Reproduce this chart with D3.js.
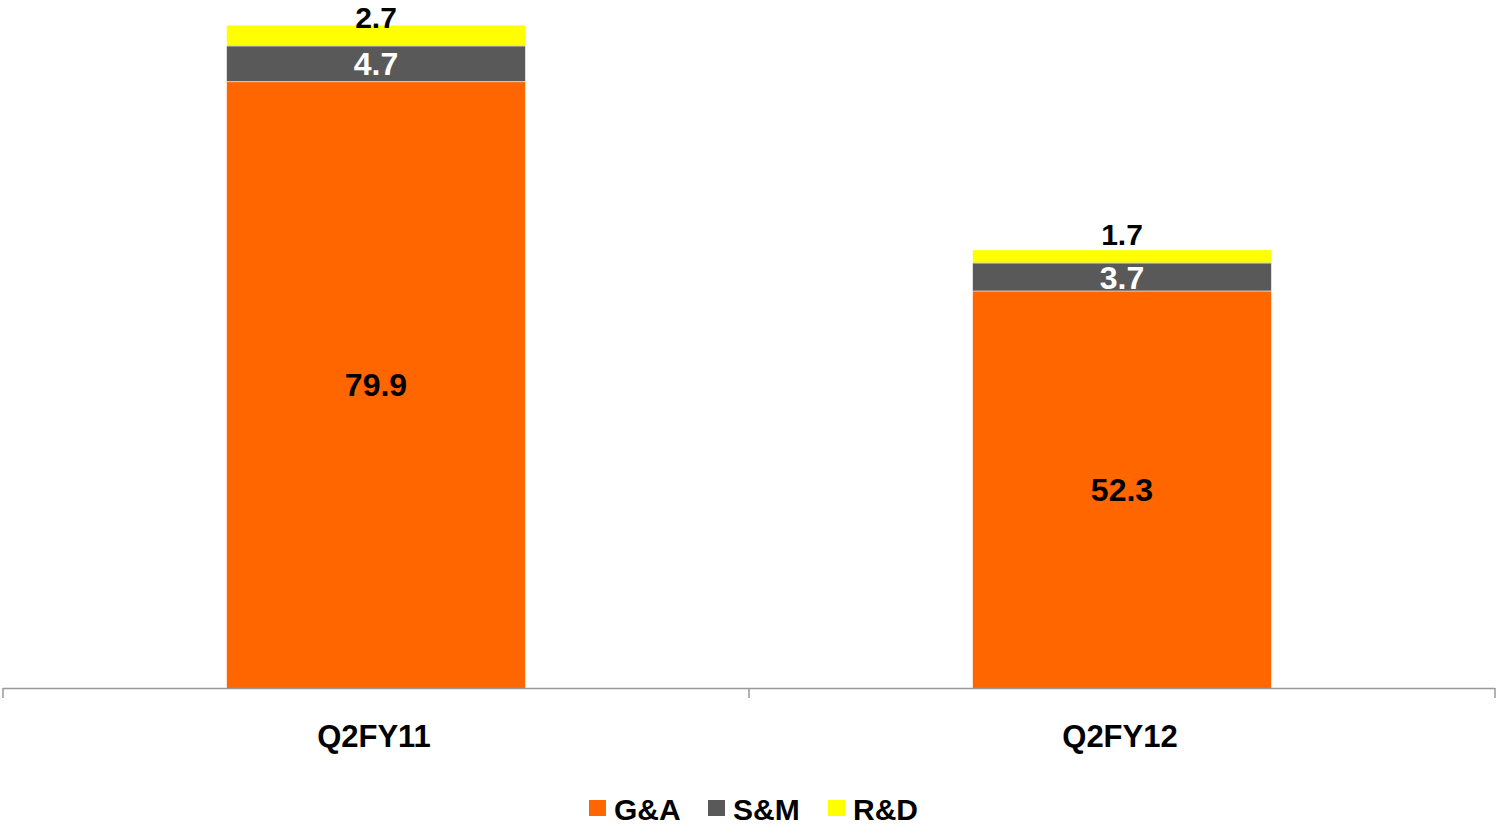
<!DOCTYPE html>
<html>
<head>
<meta charset="utf-8">
<script src="https://cdn.jsdelivr.net/npm/d3@7"></script>
<style>
  html, body { margin: 0; padding: 0; background: #ffffff; }
  svg { display: block; font-family: "Liberation Sans", Arial, sans-serif; }
</style>
</head>
<body>
<svg id="chart" width="1496" height="825"></svg>
<script>
// Quarterly operating expense breakdown
const categories = ["Q2FY11", "Q2FY12"];
const seriesNames = ["G&A", "S&M", "R&D"];
const gaValues = [79.9, 52.3];
const smValues = [4.7, 3.7];
const rdValues = [2.7, 1.7];
const seriesColors = ["#FF6600", "#595959", "#FFFF00"];

const rows = categories.map((c, i) => ({
  category: c,
  "G&A": gaValues[i],
  "S&M": smValues[i],
  "R&D": rdValues[i]
}));

const svg = d3.select("#chart");

const x = d3.scaleBand()
  .domain(categories)
  .range([3, 1495])
  .paddingInner(0.6)
  .paddingOuter(0.3);

const y = d3.scaleLinear()
  .domain([0, 90])
  .range([688, 5]);

const stacked = d3.stack().keys(seriesNames)(rows);

// stacked bar segments
const layers = svg.append("g").selectAll("g")
  .data(stacked)
  .join("g")
  .attr("fill", (d, i) => seriesColors[i]);

layers.selectAll("rect")
  .data(d => d)
  .join("rect")
  .attr("x", d => x(d.data.category))
  .attr("width", x.bandwidth())
  .attr("y", d => y(d[1]))
  .attr("height", d => y(d[0]) - y(d[1]));

// thin light separators between segments
stacked.slice(1).forEach(layer => {
  svg.append("g").selectAll("line")
    .data(layer)
    .join("line")
    .attr("x1", d => x(d.data.category))
    .attr("x2", d => x(d.data.category) + x.bandwidth())
    .attr("y1", d => y(d[0]))
    .attr("y2", d => y(d[0]))
    .attr("stroke", "#d0d0d0")
    .attr("stroke-width", 1);
});

// category axis
const step = x.step();
const axisG = svg.append("g");
axisG.append("line")
  .attr("x1", 3).attr("x2", 1495)
  .attr("y1", y(0) + 0.5).attr("y2", y(0) + 0.5)
  .attr("stroke", "#999999").attr("stroke-width", 1.5);
const boundaries = [x(categories[0]) - step * 0.3]
  .concat(categories.map(c => x(c) + x.bandwidth() + step * 0.3));
axisG.selectAll("line.tick")
  .data(boundaries)
  .join("line")
  .attr("class", "tick")
  .attr("x1", d => d).attr("x2", d => d)
  .attr("y1", y(0)).attr("y2", y(0) + 10)
  .attr("stroke", "#999999").attr("stroke-width", 1.5);

axisG.selectAll("text")
  .data(categories)
  .join("text")
  .attr("x", d => x(d) + x.bandwidth() / 2 - 2)
  .attr("y", 747)
  .attr("text-anchor", "middle")
  .attr("font-size", 31)
  .attr("font-weight", "bold")
  .attr("fill", "#000")
  .text(d => d);

// value labels
const labels = svg.append("g")
  .attr("font-weight", "bold")
  .attr("text-anchor", "middle");

stacked.forEach(layer => {
  layer.forEach(d => {
    const cx = x(d.data.category) + x.bandwidth() / 2;
    const v = d.data[layer.key];
    let ty, fill, size;
    if (layer.key === "R&D") {
      // outside the top of the bar, kept inside the frame
      ty = Math.max(27.5, y(d[1]) - 5);
      fill = "#000";
      size = 30;
    } else {
      ty = (y(d[0]) + y(d[1])) / 2 + 11.5;
      fill = layer.key === "S&M" ? "#ffffff" : "#000";
      size = 32;
    }
    labels.append("text")
      .attr("x", cx)
      .attr("y", ty)
      .attr("fill", fill)
      .attr("font-size", size)
      .text(d3.format(".1f")(v));
  });
});

// legend
const legendX = [589, 708, 828];
const legend = svg.append("g");
seriesNames.forEach((name, i) => {
  legend.append("rect")
    .attr("x", legendX[i]).attr("y", 800)
    .attr("width", 17).attr("height", 16)
    .attr("fill", seriesColors[i]);
  legend.append("text")
    .attr("x", legendX[i] + 25).attr("y", 820)
    .attr("font-size", 30)
    .attr("font-weight", "bold")
    .attr("fill", "#000")
    .text(name);
});
</script>
</body>
</html>
